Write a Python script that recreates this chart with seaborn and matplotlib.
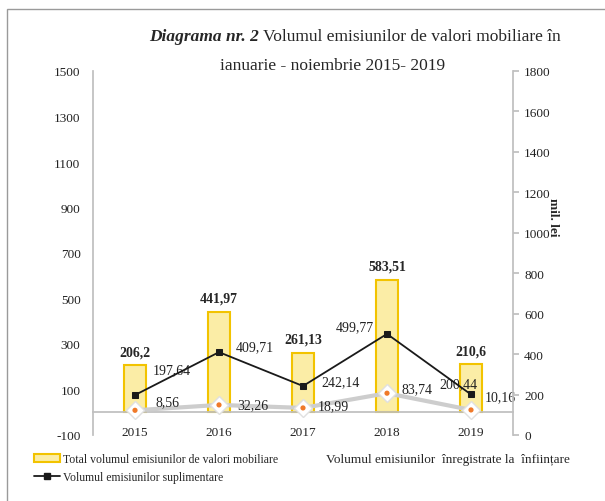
import numpy as np
import pandas as pd
import matplotlib
matplotlib.use("Agg")
import matplotlib.pyplot as plt
import seaborn as sns
from matplotlib.patches import Rectangle, Patch
from matplotlib.lines import Line2D

# ---------------- date ----------------
years = ["2015", "2016", "2017", "2018", "2019"]
total = [206.2, 441.97, 261.13, 583.51, 210.6]           # axa stanga (bare)
suplimentare = [197.64, 409.71, 242.14, 499.77, 200.44]  # axa dreapta
infiintare = [8.56, 32.26, 18.99, 83.74, 10.16]         # axa stanga

total_lbl = ["206,2", "441,97", "261,13", "583,51", "210,6"]
supl_lbl = ["197,64", "409,71", "242,14", "499,77", "200,44"]
inf_lbl = ["8,56", "32,26", "18,99", "83,74", "10,16"]

df = pd.DataFrame({"An": years, "pos": range(len(years)), "Total": total,
                   "Supl": suplimentare, "Inf": infiintare})

# ---------------- stil ----------------
sns.set_theme(style="white")
plt.rcParams["font.family"] = ["Liberation Serif", "DejaVu Serif"]
plt.rcParams["axes.unicode_minus"] = False

fig = plt.figure(figsize=(6.05, 5.02), dpi=100)
ax = fig.add_axes([93 / 605, 1 - 436 / 502, 420 / 605, 364 / 502])
ax2 = ax.twinx()

BAR_FILL = "#FBEDA6"
BAR_EDGE = "#F2C300"
GREY = "#CDCDCD"
AXC = "#BFBFBF"

sns.barplot(data=df, x="pos", y="Total", ax=ax, width=0.26, color=BAR_FILL,
            edgecolor=BAR_EDGE, linewidth=1.5, saturation=1, native_scale=True)

sns.lineplot(data=df, x="pos", y="Inf", ax=ax, color=GREY, linewidth=3,
             marker="D", markersize=9, markerfacecolor="white",
             markeredgecolor="#E0E0E0", markeredgewidth=1, zorder=4)
sns.scatterplot(data=df, x="pos", y="Inf", ax=ax, color="#F07A2A", s=14,
                edgecolor="none", zorder=5)

sns.lineplot(data=df, x="pos", y="Supl", ax=ax2, color="#1A1A1A", linewidth=1.3,
             marker="s", markersize=5, markeredgecolor="#1A1A1A", zorder=4)

# ---------------- axe ----------------
ax.set_xlim(-0.5, 4.5)
ax.set_ylim(-100, 1500)
ax.set_yticks(np.arange(-100, 1501, 200))
ax2.set_ylim(0, 1800)
ax2.set_yticks(np.arange(0, 1801, 200))
ax.set_xticks(range(len(years)))
ax.set_xticklabels(years)
ax.set_xlabel("")
ax.set_ylabel("")
ax2.set_ylabel("mil. lei", fontsize=9.5, fontweight="bold", rotation=270,
               labelpad=12)
ax2.yaxis.set_label_coords(1.11, 0.6)

for a in (ax, ax2):
    for s in a.spines.values():
        s.set_visible(False)
ax.spines["left"].set_visible(True)
ax.spines["left"].set_color(AXC)
ax.spines["bottom"].set_visible(True)
ax.spines["bottom"].set_position(("data", 0))
ax.spines["bottom"].set_color(AXC)
ax2.spines["right"].set_visible(True)
ax2.spines["right"].set_color(AXC)

ax.tick_params(axis="y", length=0, labelsize=9.5, pad=9, colors="#222222")
ax.tick_params(axis="x", length=0, labelsize=9.5, pad=10, colors="#222222")
ax2.tick_params(axis="y", length=4, labelsize=9.5, pad=4, colors="#222222")
ax2.tick_params(axis="y", color=AXC)
ax.grid(False)
ax2.grid(False)

# ---------------- etichete ----------------
for i, (v, t) in enumerate(zip(total, total_lbl)):
    ax.annotate(t, (i, v), xytext=(0, 7), textcoords="offset pixels",
                ha="center", va="bottom", fontsize=10, fontweight="bold")

supl_off = [(18, 25, "left"), (17, 5, "left"), (18, 4, "left"),
            (-13, 7, "right"), (-13, 11, "center")]
for i, (v, t) in enumerate(zip(suplimentare, supl_lbl)):
    dx, dy, ha = supl_off[i]
    ax2.annotate(t, (i, v), xytext=(dx, dy), textcoords="offset pixels",
                 ha=ha, va="center", fontsize=10, color="#222222")

inf_off = [(20, 9), (18, 0), (15, 2), (15, 5), (14, 13)]
for i, (v, t) in enumerate(zip(infiintare, inf_lbl)):
    dx, dy = inf_off[i]
    ax.annotate(t, (i, v), xytext=(dx, dy), textcoords="offset pixels",
                ha="left", va="center", fontsize=10, color="#222222", zorder=6)

# ---------------- titlu ----------------
t1 = fig.text(149 / 605, 1 - 37 / 502, "Diagrama nr. 2", fontsize=12.5,
              fontweight="bold", fontstyle="italic", va="center", ha="left")
fig.canvas.draw()
bb = t1.get_window_extent(fig.canvas.get_renderer())
fig.text(bb.x1 / fig.bbox.width, 1 - 37 / 502,
         " Volumul emisiunilor de valori mobiliare în", fontsize=12.5,
         va="center", ha="left")
fig.text(333 / 605, 1 - 66 / 502, "ianuarie - noiembrie 2015- 2019",
         fontsize=12.5, va="center", ha="center")

# ---------------- legenda ----------------
h_bar = Patch(facecolor=BAR_FILL, edgecolor=BAR_EDGE, linewidth=1.5)
h_supl = Line2D([], [], color="#1A1A1A", linewidth=1.3, marker="s", markersize=4)
h_inf = Line2D([], [], color="white", linewidth=3)
fig.legend([h_bar, h_supl], ["Total volumul emisiunilor de valori mobiliare",
                             "Volumul emisiunilor suplimentare"],
           loc="upper left", bbox_to_anchor=(28 / 605, 1 - 448 / 502),
           frameon=False, fontsize=8.5, handlelength=2.2,
           handletextpad=0.3, labelspacing=0.5, borderpad=0)
fig.legend([h_inf], ["Volumul emisiunilor  înregistrate la  înființare"],
           loc="upper left", bbox_to_anchor=(286 / 605, 1 - 447 / 502),
           frameon=False, fontsize=9.5, handlelength=2.2, handletextpad=0.3,
           borderpad=0)

# chenar
fig.patches.append(Rectangle((7 / 605, -0.05), 1.1, 1 - 9.5 / 502 + 0.05,
                             transform=fig.transFigure, fill=False,
                             edgecolor="#9A9A9A", linewidth=1))

fig.savefig("out.png", dpi=100)
